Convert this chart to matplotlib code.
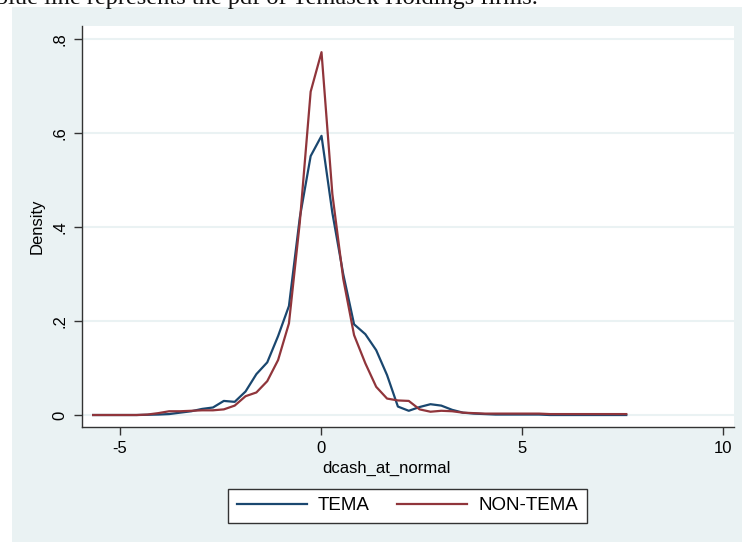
import matplotlib
matplotlib.use("Agg")
import matplotlib.pyplot as plt
from matplotlib.patches import Rectangle

# ---- data ----
x_grid = [-5.66, -5.39, -5.12, -4.85, -4.58, -4.31, -4.04, -3.77, -3.50, -3.22,
          -2.95, -2.68, -2.41, -2.14, -1.87, -1.60, -1.33, -1.06, -0.79, -0.52,
          -0.25, 0.02, 0.29, 0.56, 0.83, 1.11, 1.38, 1.65, 1.92, 2.19,
          2.46, 2.73, 3.00, 3.27, 3.54, 3.81, 4.08, 4.35, 4.62, 4.89,
          5.16, 5.43, 5.70, 5.97, 6.24, 6.52, 6.79, 7.06, 7.33, 7.60]

tema = [0.0, 0.0, 0.0, 0.0, 0.0, 0.0005, 0.001, 0.002, 0.005, 0.008,
        0.013, 0.016, 0.030, 0.028, 0.050, 0.087, 0.112, 0.168, 0.232, 0.42,
        0.551, 0.594, 0.43, 0.30, 0.193, 0.172, 0.138, 0.085, 0.018, 0.009,
        0.017, 0.023, 0.020, 0.011, 0.005, 0.003, 0.002, 0.001, 0.001, 0.001,
        0.001, 0.001, 0.0, 0.0, 0.0, 0.0, 0.0, 0.0, 0.0, 0.0]

non_tema = [0.0, 0.0, 0.0, 0.0, 0.0, 0.001, 0.004, 0.008, 0.008, 0.009,
            0.010, 0.010, 0.012, 0.020, 0.040, 0.048, 0.072, 0.117, 0.195, 0.41,
            0.688, 0.772, 0.47, 0.29, 0.170, 0.110, 0.060, 0.035, 0.031, 0.030,
            0.012, 0.007, 0.009, 0.008, 0.005, 0.004, 0.003, 0.003, 0.003, 0.003,
            0.003, 0.003, 0.002, 0.002, 0.002, 0.002, 0.002, 0.002, 0.002, 0.002]

series_labels = ["TEMA", "NON-TEMA"]
x_ticks = [-5, 0, 5, 10]
x_tick_labels = ["-5", "0", "5", "10"]
y_ticks = [0, 0.2, 0.4, 0.6, 0.8]
y_tick_labels = ["0", ".2", ".4", ".6", ".8"]
x_label = "dcash_at_normal"
y_label = "Density"
caption = "blue line represents the pdf of Temasek Holdings firms."

# ---- style ----
W, H = 742, 542
BG = "#EAF2F3"
NAVY = "#1A476F"
MAROON = "#90353B"
plt.rcParams["font.family"] = ["Liberation Sans", "DejaVu Sans"]

fig = plt.figure(figsize=(W / 100, H / 100), dpi=100)
fig.patch.set_facecolor(BG)

# white page strip (top and left) outside the graph region
fig.patches.append(Rectangle((0, 1 - 7 / H), 1, 7 / H, transform=fig.transFigure,
                             facecolor="white", edgecolor="none", zorder=0))
fig.patches.append(Rectangle((0, 0), 12 / W, 1, transform=fig.transFigure,
                             facecolor="white", edgecolor="none", zorder=0))

# cropped caption text at top (as in the reference page crop)
cap = fig.text(-4 / W, 1 - 4 / H, caption, family=["Liberation Serif"], fontsize=15,
               ha="left", va="baseline", color="#111111")
fig.canvas.draw()
bb = cap.get_window_extent()
cap.set_fontsize(15 * 545 / bb.width)

left_px, right_px, top_px, bottom_px = 81.5, 734, 26, 427
ax = fig.add_axes([left_px / W, 1 - bottom_px / H,
                   (right_px - left_px) / W, (bottom_px - top_px) / H])
ax.set_facecolor("white")

ax.plot(x_grid, tema, color=NAVY, lw=1.6, label=series_labels[0], zorder=3)
ax.plot(x_grid, non_tema, color=MAROON, lw=1.6, label=series_labels[1], zorder=4)

ax.set_xlim(-5.95, 10.28)
ax.set_ylim(-0.0255, 0.8277)

ax.set_xticks(x_ticks)
ax.set_xticklabels(x_tick_labels)
ax.set_yticks(y_ticks)
ax.set_yticklabels(y_tick_labels, rotation=90, va="center")
ax.tick_params(axis="both", direction="out", length=6, width=1, color="#333333",
               labelsize=12, labelcolor="black", pad=4)
ax.yaxis.grid(True, color=BG, lw=1.5, zorder=0)
ax.xaxis.grid(False)
ax.set_axisbelow(True)

for s in ["top", "right"]:
    ax.spines[s].set_visible(False)
for s in ["left", "bottom"]:
    ax.spines[s].set_color("#333333")
    ax.spines[s].set_linewidth(1.0)

ax.set_xlabel(x_label, fontsize=12, labelpad=4)
ax.xaxis.set_label_coords((386 - left_px) / (right_px - left_px), -0.085)
ax.set_ylabel(y_label, fontsize=12, labelpad=6)

leg = fig.legend(loc="center", bbox_to_anchor=(407.5 / W, 1 - 505.5 / H), ncol=2,
                 fontsize=13.5, frameon=True, fancybox=False, handlelength=3.75,
                 columnspacing=1.45, handletextpad=0.6, borderpad=0.45)
leg.get_frame().set_edgecolor("#333333")
leg.get_frame().set_linewidth(1.0)
leg.get_frame().set_facecolor("white")
leg.get_frame().set_alpha(1)

fig.savefig("out.png", dpi=100, facecolor=BG)
